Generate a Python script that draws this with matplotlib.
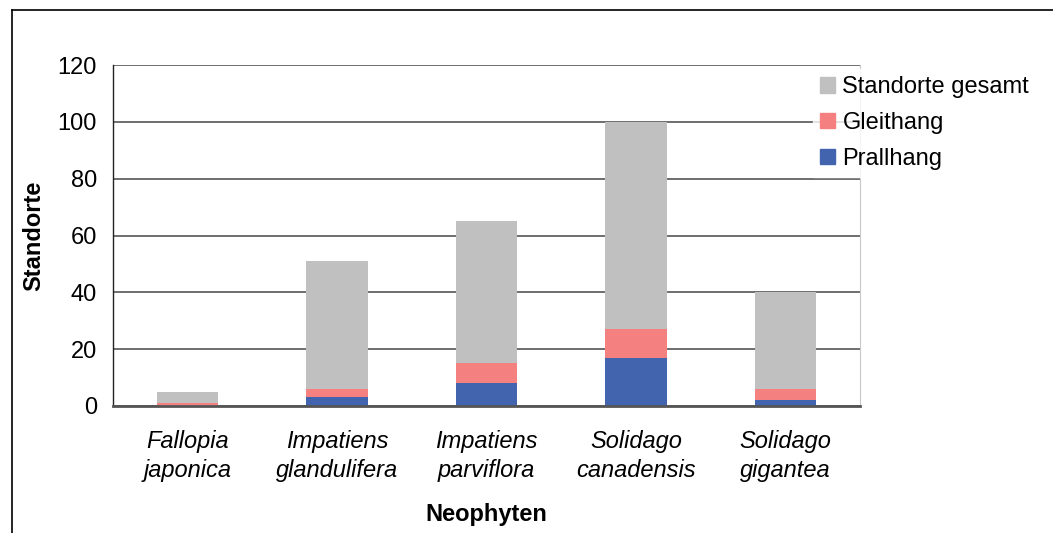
import matplotlib.pyplot as plt
import numpy as np
from matplotlib.lines import Line2D
from matplotlib.patches import Patch

plt.rcParams["font.family"] = ["Liberation Sans", "DejaVu Sans"]

species = [
    "Fallopia\njaponica",
    "Impatiens\nglandulifera",
    "Impatiens\nparviflora",
    "Solidago\ncanadensis",
    "Solidago\ngigantea",
]
prallhang = [0, 3, 8, 17, 2]
gleithang = [1, 3, 7, 10, 4]
gesamt = [5, 51, 65, 100, 40]

COL_GESAMT = "#c0c0c0"
COL_GLEIT = "#f58080"
COL_PRALL = "#4264ae"

FS = 17

fig = plt.figure(figsize=(10.53, 5.33), dpi=100)
ax = fig.add_axes([0.1073, 0.2383, 0.7094, 0.6397])

x = np.arange(len(species))
p = np.array(prallhang)
g = np.array(gleithang)
rest = np.array(gesamt) - p - g
w = 0.41

ax.bar(x, p, w, color=COL_PRALL, zorder=3)
ax.bar(x, g, w, bottom=p, color=COL_GLEIT, zorder=3)
ax.bar(x, rest, w, bottom=p + g, color=COL_GESAMT, zorder=3)

ax.set_xlim(-0.5, len(species) - 0.5)
ax.set_ylim(0, 120)
ax.set_yticks(np.arange(0, 121, 20))
ax.yaxis.grid(True, color="#555555", lw=1.2, zorder=0)
ax.set_axisbelow(True)

ax.set_xticks(x)
ax.set_xticklabels(species, fontsize=FS, style="italic", linespacing=1.35)
ax.tick_params(axis="x", length=0, pad=17)
ax.tick_params(axis="y", length=0, pad=11.5, labelsize=FS)

ax.spines["top"].set_visible(False)
ax.spines["right"].set_color("#c8c8c8")
ax.spines["left"].set_color("#222222")
ax.spines["left"].set_linewidth(1.0)
ax.spines["bottom"].set_color("#555555")
ax.spines["bottom"].set_linewidth(2.0)
ax.spines["bottom"].set_zorder(4)

ax.set_ylabel("Standorte", fontsize=FS, fontweight="bold", labelpad=9)
ax.set_xlabel("Neophyten", fontsize=FS, fontweight="bold", labelpad=15)

handles = [
    Patch(color=COL_GESAMT, label="Standorte gesamt"),
    Patch(color=COL_GLEIT, label="Gleithang"),
    Patch(color=COL_PRALL, label="Prallhang"),
]
leg = ax.legend(
    handles=handles,
    loc="upper left",
    bbox_to_anchor=(0.937, 0.988),
    frameon=True,
    fontsize=FS,
    handlelength=0.62,
    handleheight=0.62,
    handletextpad=0.33,
    labelspacing=0.58,
    borderaxespad=0,
    borderpad=0.3,
    fancybox=False,
)
leg.get_frame().set_edgecolor("white")
leg.get_frame().set_facecolor("white")
leg.set_zorder(5)

# outer chart frame
fig.add_artist(Line2D([0.011, 1.0], [0.982, 0.982], color="black", lw=1.2))
fig.add_artist(Line2D([0.011, 0.011], [0.0, 0.982], color="black", lw=1.2))

fig.savefig("out.png", dpi=100)
